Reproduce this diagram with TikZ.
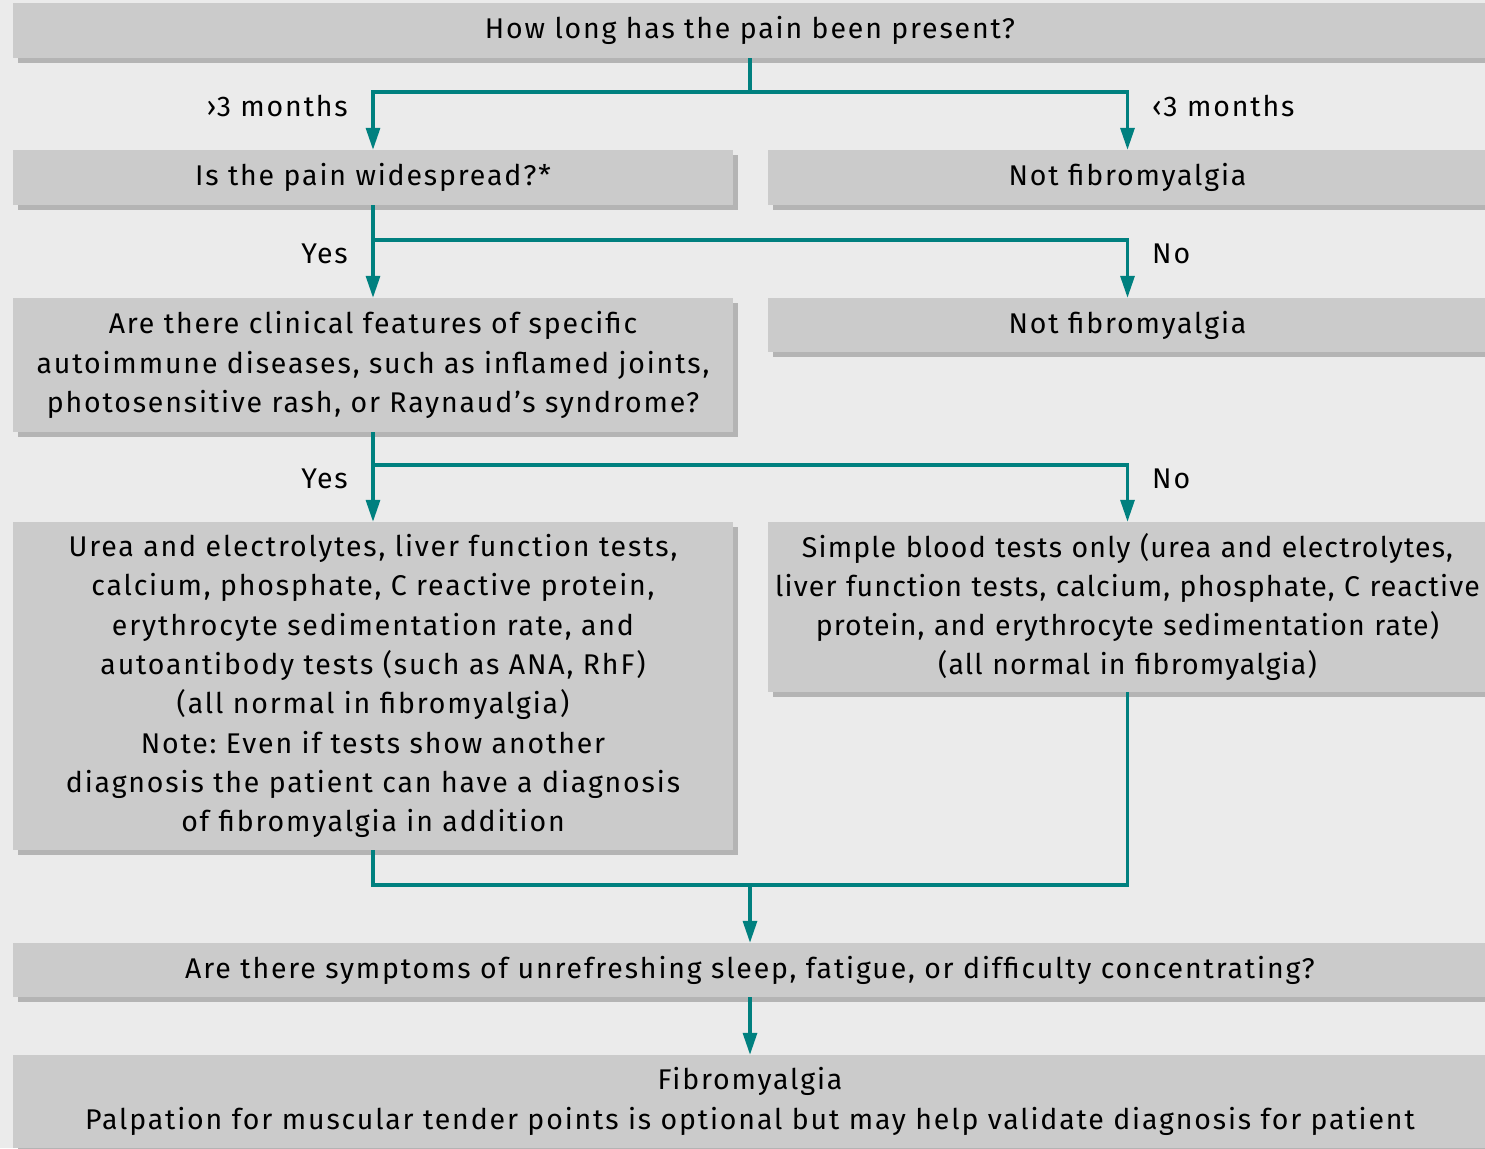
\documentclass[tikz,border=0pt]{standalone}
\usepackage{fontspec}
\setmainfont[LetterSpace=6.5]{Fira Sans}
\newfontfamily\tightfont[LetterSpace=4]{Fira Sans}
\usetikzlibrary{arrows.meta,shadows}
\definecolor{bgc}{HTML}{EBEBEB}
\definecolor{boxfill}{HTML}{CBCBCB}
\definecolor{boxshadow}{HTML}{B4B4B4}
\definecolor{myteal}{HTML}{00807F}
\frenchspacing
\begin{document}
\begin{tikzpicture}[x=1pt,y=-1pt,
  box/.style={fill=boxfill, align=center, inner sep=0pt,
    font=\fontsize{28.5}{39.3}\selectfont,
    drop shadow={shadow xshift=5pt,shadow yshift=-5pt,fill=boxshadow,opacity=1}},
  full/.style={box, minimum width=1474pt},
  leftc/.style={box, minimum width=720pt},
  rightc/.style={box, minimum width=719pt},
  conn/.style={draw=myteal, line width=3.2pt},
  arr/.style={conn, -{Triangle[width=14pt,length=22pt]}},
  lbl/.style={font=\fontsize{28.5}{34}\selectfont, inner sep=0pt}]
\fill[bgc] (0,0) rectangle (1485,1148);
\useasboundingbox (0,0) rectangle (1485,1148);

\node[full, minimum height=55pt] (top) at (750,30.5) {How long has the pain been present?};
\node[leftc, minimum height=55pt] (wide) at (373,177.5) {Is the pain widespread?*};
\node[rightc, minimum height=55pt] (nf1) at (1127.5,177.5) {Not fibromyalgia};
\node[leftc, minimum height=134pt] (clin) at (373,365) {Are there clinical features of specific\\autoimmune diseases, such as inflamed joints,\\photosensitive rash, or Raynaud’s syndrome?};
\node[rightc, minimum height=54pt] (nf2) at (1127.5,325) {Not fibromyalgia};
\node[leftc, minimum height=328pt] (urea) at (373,686) {Urea and electrolytes, liver function tests,\\calcium, phosphate, C reactive protein,\\erythrocyte sedimentation rate, and\\autoantibody tests (such as ANA, RhF)\\(all normal in fibromyalgia)\\Note: Even if tests show another\\diagnosis the patient can have a diagnosis\\of fibromyalgia in addition};
\node[rightc, minimum height=170pt, text width=719pt, font=\fontsize{28.5}{39.3}\tightfont] (simple) at (1127.5,607) {Simple blood tests only (urea and electrolytes,\\liver function tests, calcium, phosphate, C reactive\\protein, and erythrocyte sedimentation rate)\\(all normal in fibromyalgia)};
\node[full, minimum height=54pt] (sleep) at (750,970) {Are there symptoms of unrefreshing sleep, fatigue, or difficulty concentrating?};
\node[full, minimum height=93pt] (fib) at (750,1101.5) {Fibromyalgia\\Palpation for muscular tender points is optional but may help validate diagnosis for patient};

\coordinate (j1) at (750,92);
\coordinate (j2) at (373,240);
\coordinate (j3) at (373,465);
\coordinate (j4) at (750,885);

\draw[conn] (top.south) -- (j1);
\draw[arr] (j1) -| (wide.north);
\draw[arr] (j1) -| (nf1.north);
\draw[arr] (wide.south) -- (clin.north);
\draw[arr] (j2) -| (nf2.north);
\draw[arr] (clin.south) -- (urea.north);
\draw[arr] (j3) -| (simple.north);
\draw[conn] (urea.south) |- (j4);
\draw[conn] (simple.south) |- (j4);
\draw[arr] (j4) -- (sleep.north);
\draw[arr] (sleep.south) -- (fib.north);

\node[lbl, anchor=east] (l1) at (348,106) {›3 months};
\node[lbl, anchor=west] (l2) at (1152,106) {‹3 months};
\node[lbl, anchor=east] (l3) at (348,254) {Yes};
\node[lbl, anchor=west] (l4) at (1152,254) {No};
\node[lbl, anchor=east] (l5) at (348,479) {Yes};
\node[lbl, anchor=west] (l6) at (1152,479) {No};
\end{tikzpicture}
\end{document}
